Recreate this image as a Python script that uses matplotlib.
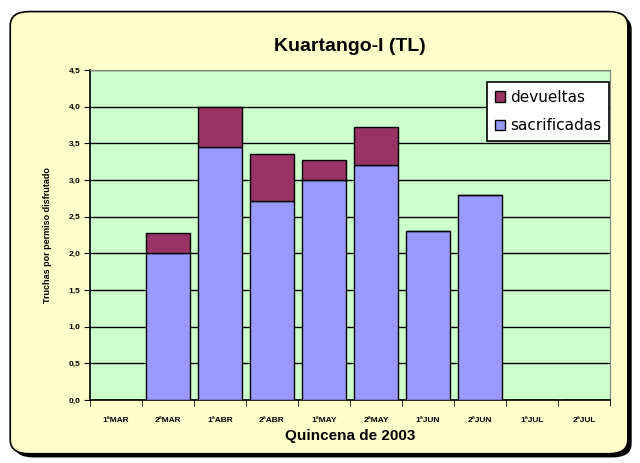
import matplotlib
matplotlib.use('Agg')
import matplotlib.pyplot as plt
import numpy as np
from matplotlib.patches import FancyBboxPatch

plt.rcParams['font.family'] = ['Liberation Sans', 'DejaVu Sans']

quincenas = ['1ªMAR', '2ªMAR', '1ªABR', '2ªABR', '1ªMAY', '2ªMAY',
             '1ªJUN', '2ªJUN', '1ªJUL', '2ªJUL']
sacrificadas = [0, 2.0, 3.45, 2.72, 3.0, 3.2, 2.3, 2.8, 0, 0]
devueltas = [0, 0.28, 0.55, 0.63, 0.28, 0.53, 0, 0, 0, 0]
yticks = np.arange(0, 4.51, 0.5)

fig = plt.figure(figsize=(6.4, 4.63), dpi=100)
fig.patch.set_facecolor('white')

# outer rounded frame with shadow
shadow = FancyBboxPatch((0.022, 0.012), 0.965, 0.955,
                        boxstyle='round,pad=0,rounding_size=0.03',
                        transform=fig.transFigure, facecolor='black',
                        edgecolor='none', zorder=-2)
frame = FancyBboxPatch((0.016, 0.02), 0.965, 0.955,
                       boxstyle='round,pad=0,rounding_size=0.03',
                       transform=fig.transFigure, facecolor='#FFFFCC',
                       edgecolor='black', linewidth=1.2, zorder=-1)
fig.patches.extend([shadow, frame])

ax = fig.add_axes([0.1406, 0.136, 0.8125, 0.7127])
ax.set_zorder(2)
ax.set_facecolor('#CCFFCC')
x = np.arange(len(quincenas))
ax.bar(x, sacrificadas, width=0.83, color='#9999FF', edgecolor='black',
       linewidth=1, label='sacrificadas', zorder=3)
ax.bar(x, devueltas, width=0.83, bottom=sacrificadas, color='#993366',
       edgecolor='black', linewidth=1, label='devueltas', zorder=3)

ax.set_xlim(-0.5, len(quincenas) - 0.5)
ax.set_ylim(0, 4.5)
ax.set_yticks(yticks)
ax.set_yticklabels([f'{v:.1f}'.replace('.', ',') for v in yticks],
                   fontsize=6, fontweight='bold')
ax.set_xticks(x)
ax.set_xticklabels(quincenas, fontsize=6, fontweight='bold')
ax.set_xticks(np.arange(-0.5, len(quincenas)), minor=True)
ax.tick_params(axis='x', which='major', length=0, pad=12)
ax.tick_params(axis='x', which='minor', length=4, direction='out')
ax.tick_params(axis='y', length=4, direction='out', pad=3)
ax.yaxis.grid(True, color='black', linewidth=1, zorder=1)
ax.set_axisbelow(True)
for s in ['top', 'right']:
    ax.spines[s].set_color('#808080')
for s in ['left', 'bottom']:
    ax.spines[s].set_linewidth(1.2)

ax.set_title('Kuartango-I (TL)', fontsize=14, fontweight='bold', pad=14)
ax.set_xlabel('Quincena de 2003', fontsize=11, fontweight='bold', labelpad=4)
ax.set_ylabel('Truchas por permiso disfrutado', fontsize=6.5,
              fontweight='bold', labelpad=12)

handles, labels = ax.get_legend_handles_labels()
leg = ax.legend(handles[::-1], labels[::-1], loc='upper left',
                bbox_to_anchor=(0.761, 0.823), bbox_transform=fig.transFigure,
                prop={'family': 'DejaVu Sans', 'size': 11},
                frameon=True, fancybox=False, edgecolor='black',
                framealpha=1, handlelength=0.7, handleheight=0.7,
                handletextpad=0.3, labelspacing=0.9, borderpad=0.5,
                borderaxespad=0)
leg.get_frame().set_linewidth(1.2)

fig.savefig('out.png', dpi=100, facecolor=fig.get_facecolor())
